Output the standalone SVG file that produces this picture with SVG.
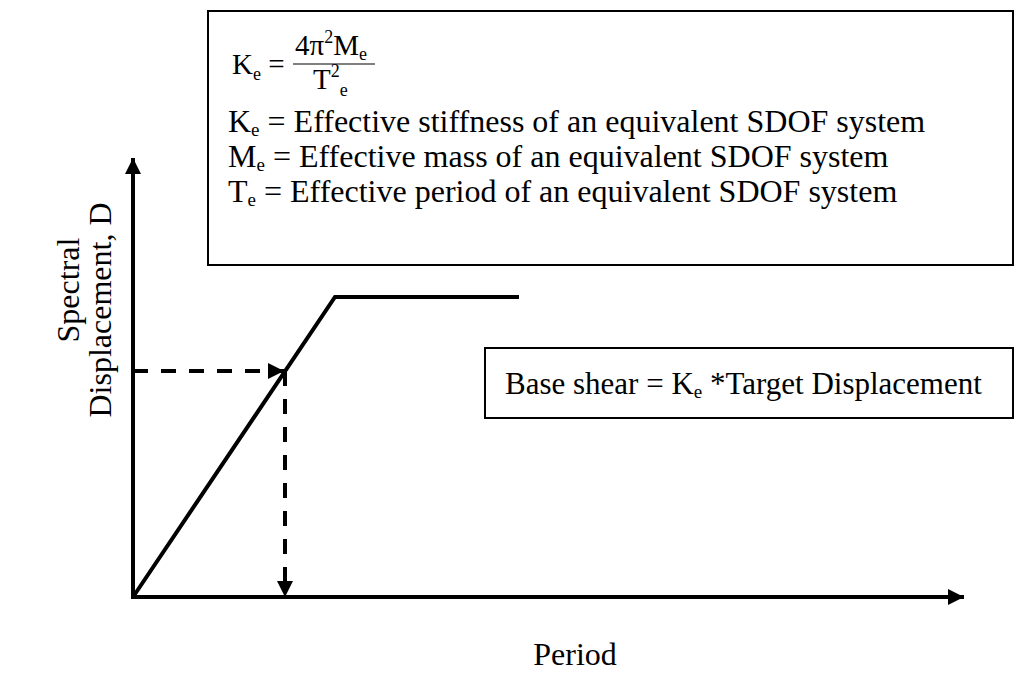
<svg xmlns="http://www.w3.org/2000/svg" width="1020" height="675" viewBox="0 0 1020 675">
  <style>
    .t { font-family: "Liberation Serif", "Times New Roman", serif; fill: #000; }
    .body { font-size: 32px; }
    .bs { font-size: 31px; }
    .frm { font-size: 29px; }
    .box { fill: #fff; stroke: #000; stroke-width: 2; }
    .solid { fill: none; stroke: #000; stroke-width: 4; }
    .dash { fill: none; stroke: #000; stroke-width: 4; stroke-dasharray: 15 13; }
  </style>
  <defs>
    <marker id="arr" markerUnits="userSpaceOnUse" markerWidth="18" markerHeight="18" refX="16" refY="8" orient="auto">
      <path d="M0,0 L16,8 L0,16 Z" fill="#000"/>
    </marker>
  </defs>
  <rect width="1020" height="675" fill="#fff"/>

  <g id="connectors">
    <line id="y-axis" class="solid" x1="133" y1="599" x2="133" y2="158" marker-end="url(#arr)"/>
    <line id="x-axis" class="solid" x1="131" y1="597" x2="964" y2="597" marker-end="url(#arr)"/>
    <polyline id="spectrum" class="solid" points="133,597 335,297 519,297"/>
    <line id="dash-h" class="dash" x1="133" y1="371" x2="284" y2="371" marker-end="url(#arr)"/>
    <line id="dash-v" class="dash" x1="285" y1="371" x2="285" y2="597" marker-end="url(#arr)"/>
  </g>

  <g id="definitions-box">
    <rect class="box" x="208" y="11" width="805" height="254"/>
    <text class="t frm" x="232" y="74">K<tspan font-size="18" dy="6">e</tspan><tspan dy="-6"> =</tspan></text>
    <line x1="293" y1="64" x2="375" y2="64" stroke="#000" stroke-width="1.2"/>
    <text class="t frm" x="295" y="55">4π<tspan font-size="18" dy="-12">2</tspan><tspan dy="12">M</tspan><tspan font-size="18" dy="5">e</tspan></text>
    <text class="t frm" x="313" y="89">T<tspan font-size="18" dy="-12">2</tspan><tspan font-size="18" dy="19">e</tspan></text>
    <text class="t body" x="228" y="132">K<tspan font-size="19" dy="4">e</tspan><tspan dy="-4"> = Effective stiffness of an equivalent SDOF system</tspan></text>
    <text class="t body" x="228" y="167">M<tspan font-size="19" dy="4">e</tspan><tspan dy="-4"> = Effective mass of an equivalent SDOF system</tspan></text>
    <text class="t body" x="228" y="202">T<tspan font-size="19" dy="4">e</tspan><tspan dy="-4"> = Effective period of an equivalent SDOF system</tspan></text>
  </g>

  <g id="base-shear-box">
    <rect class="box" x="485" y="348" width="528" height="70"/>
    <text class="t bs" x="505" y="394">Base shear = K<tspan font-size="19" dy="4">e</tspan><tspan dy="-4"> *Target Displacement</tspan></text>
  </g>

  <g id="y-label">
    <text class="t body" text-anchor="middle" transform="translate(79,290) rotate(-90)">Spectral</text>
    <text class="t body" text-anchor="middle" transform="translate(111,310) rotate(-90)">Displacement, D</text>
  </g>

  <g id="x-label">
    <text class="t body" text-anchor="middle" x="575" y="665">Period</text>
  </g>
</svg>
